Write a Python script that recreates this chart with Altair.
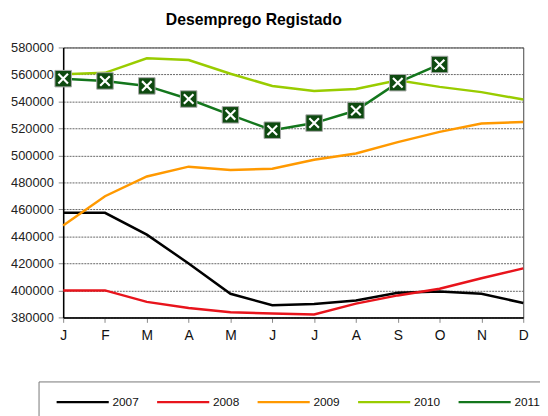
import altair as alt
import pandas as pd

months = ["J", "F", "M", "A", "M", "J", "J", "A", "S", "O", "N", "D"]
years = ["2007", "2008", "2009", "2010", "2011"]
v2007 = [457500, 457500, 441300, 420000, 397500, 389000, 390000, 392600, 398200, 399200, 397500, 390700]
v2008 = [400000, 400000, 391500, 387000, 383900, 382900, 382200, 390200, 396300, 401200, 409000, 416300]
v2009 = [448100, 469800, 484400, 491700, 489300, 490200, 496800, 501400, 509900, 517500, 523600, 524800]
v2010 = [560100, 561200, 572000, 570700, 560500, 551500, 547700, 549300, 555700, 550800, 546900, 541500]
v2011 = [556900, 555200, 551500, 541800, 530100, 518700, 524000, 533300, 553900, 567400]
colors = ["#000000", "#e8141c", "#ff9900", "#99cc00", "#13761c"]

series = [v2007, v2008, v2009, v2010, v2011]
rows = []
for y, vals in zip(years, series):
    for i, v in enumerate(vals):
        rows.append({"ano": y, "m": i, "valor": v})
df = pd.DataFrame(rows)

label_expr = "[" + ",".join("'%s'" % m for m in months) + "][datum.value]"

x = alt.X("m:Q", scale=alt.Scale(domain=[0, 11], nice=False),
          axis=alt.Axis(values=list(range(12)), labelExpr=label_expr, title=None,
                        grid=False, domainColor="#000", domainWidth=1.5, labelFlush=False,
                        tickColor="#888", tickSize=5, labelFontSize=14,
                        labelColor="#111", labelPadding=6, labelFont="Liberation Sans"))
y = alt.Y("valor:Q", scale=alt.Scale(domain=[380000, 580000], nice=False, zero=False),
          axis=alt.Axis(values=list(range(380000, 580001, 20000)), format="d", title=None,
                        gridColor="#666", gridDash=[2, 1], gridWidth=1, labelFlush=False,
                        domainColor="#000", domainWidth=1.5, tickColor="#888", tickSize=5,
                        labelFontSize=13, labelColor="#222", labelPadding=5,
                        labelFont="Liberation Sans"))

color = alt.Color("ano:N", scale=alt.Scale(domain=years, range=colors),
                  legend=alt.Legend(orient="none", legendX=-25, legendY=339, direction="horizontal",
                                    columns=5, title=None, symbolType="M-0.5,0H9.5", symbolSize=112,
                                    symbolStrokeWidth=2.5, labelFontSize=12, labelOffset=47,
                                    columnPadding=13, labelFont="Liberation Sans", labelColor="#111",
                                    strokeColor="#777", padding=14))

lines = alt.Chart(df).mark_line(strokeWidth=2.5).encode(x=x, y=y, color=color, order="m:Q")

d11 = df[df["ano"] == "2011"]
squares = alt.Chart(d11).mark_point(shape="square", filled=True, size=280, fill="#0e4a10",
                                    stroke="#aaa", strokeWidth=1, opacity=1).encode(x=x, y=y)
crosses = alt.Chart(d11).mark_point(shape="M-1,-1L1,1M1,-1L-1,1", filled=False, size=95,
                                    stroke="#ffffff", strokeWidth=2.2, opacity=1).encode(x=x, y=y)

chart = alt.layer(lines, squares, crosses).properties(
    width=467, height=274,
    title=alt.TitleParams("Desemprego Registado", fontSize=16, fontWeight="bold",
                          font="Liberation Sans", anchor="middle", dx=-40, offset=14, color="#000"),
    autosize=alt.AutoSizeParams(type="none"),
    padding={"left": 56, "top": 37, "right": 17, "bottom": 97},
).configure_view(stroke="#444", strokeWidth=1)

chart.save("out.html", embed_options={"renderer": "svg", "actions": False})
